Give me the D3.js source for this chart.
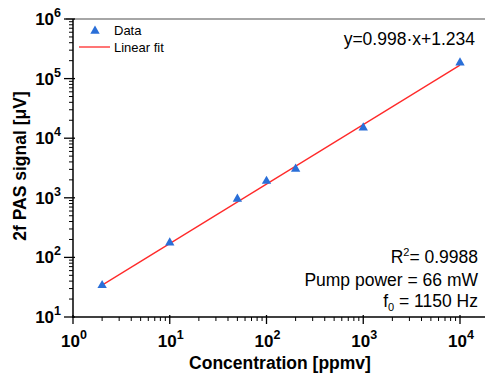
<!DOCTYPE html>
<html><head><meta charset="utf-8">
<script src="https://cdn.jsdelivr.net/npm/d3@7"></script>
<style>body{margin:0;background:#fff}svg{display:block;font-family:"Liberation Sans",Arial,sans-serif}</style>
</head><body><svg id="c" width="485" height="377"></svg>
<script>
const concentration = [2, 10, 50, 100, 200, 1000, 10000];
const signal = [34, 176, 955, 1910, 3050, 15000, 185000];
const fitSlope = 0.998, fitIntercept = 1.234;
const xTickExp = [0, 1, 2, 3, 4];
const yTickExp = [1, 2, 3, 4, 5, 6];
const annoLines = ["Pump power = 66 mW"];

const svg = d3.select("#c");
const x = d3.scaleLog().domain([1, 10000]).range([73, 460]);
const y = d3.scaleLog().domain([10, 1e6]).range([317, 19]);
const xRight = 490;

// top border
svg.append("line").attr("x1", 66).attr("x2", xRight).attr("y1", y(1e6)).attr("y2", y(1e6))
  .attr("stroke", "#888").attr("stroke-width", 1.5);

// minor ticks
function minors(exps){const a=[];for(let e=exps[0];e<exps[exps.length-1];e++)for(let k=2;k<=9;k++)a.push(k*Math.pow(10,e));return a;}
const xMinor = minors(xTickExp).concat([2e4,3e4]).filter(v=>x(v)<=xRight);
const yMinor = minors(yTickExp);
const g = svg.append("g");
g.selectAll(".xm").data(xMinor).join("line").attr("x1",d=>x(d)).attr("x2",d=>x(d)).attr("y1",317).attr("y2",321).attr("stroke","#000").attr("stroke-width",1);
g.selectAll(".ym").data(yMinor).join("line").attr("y1",d=>y(d)).attr("y2",d=>y(d)).attr("x1",69).attr("x2",73).attr("stroke","#000").attr("stroke-width",1);
g.selectAll(".xM").data(xTickExp).join("line").attr("x1",d=>x(Math.pow(10,d))).attr("x2",d=>x(Math.pow(10,d))).attr("y1",315).attr("y2",324).attr("stroke","#000").attr("stroke-width",1.3);
g.selectAll(".yM").data(yTickExp).join("line").attr("y1",d=>y(Math.pow(10,d))).attr("y2",d=>y(Math.pow(10,d))).attr("x1",64).attr("x2",75).attr("stroke","#000").attr("stroke-width",1.3);

// axes lines
svg.append("line").attr("x1",73).attr("x2",73).attr("y1",y(1e6)).attr("y2",317.7).attr("stroke","#000").attr("stroke-width",1.5);
svg.append("line").attr("x1",72.3).attr("x2",xRight).attr("y1",317).attr("y2",317).attr("stroke","#000").attr("stroke-width",1.5);

// tick labels
const xl = svg.selectAll(".xl").data(xTickExp).join("text")
  .attr("x",d=>x(Math.pow(10,d))+1).attr("y",347).attr("text-anchor","middle")
  .attr("font-weight","bold").attr("font-size",17);
xl.append("tspan").text("10");
xl.append("tspan").attr("font-size",12.5).attr("dy",-8).text(d=>d);
const yl = svg.selectAll(".yl").data(yTickExp).join("text")
  .attr("x",61).attr("y",d=>y(Math.pow(10,d))+6).attr("text-anchor","end")
  .attr("font-weight","bold").attr("font-size",17);
yl.append("tspan").text("10");
yl.append("tspan").attr("font-size",12.5).attr("dy",-8).text(d=>d);

// axis titles
svg.append("text").attr("x",280).attr("y",369).attr("text-anchor","middle").attr("font-weight","bold").attr("font-size",17.5).text("Concentration [ppmv]");
svg.append("text").attr("transform","translate(26,166) rotate(-90)").attr("text-anchor","middle").attr("font-weight","bold").attr("font-size",17.5).text("2f PAS signal [\u03BCV]");

// fit line
const xs = d3.extent(concentration);
const fitY = v => Math.pow(10, fitSlope*Math.log10(v)+fitIntercept);
svg.append("line").attr("x1",x(xs[0])).attr("y1",y(fitY(xs[0]))).attr("x2",x(xs[1])).attr("y2",y(fitY(xs[1])))
  .attr("stroke","#ff2a2a").attr("stroke-width",1.3);

// data markers
const tri = d3.symbol().type(d3.symbolTriangle).size(38);
const blue = "#2a6fd8";
svg.selectAll(".pt").data(concentration).join("path")
  .attr("d",tri).attr("transform",(d,i)=>`translate(${x(d)},${y(signal[i])})`).attr("fill",blue);

// legend
svg.append("path").attr("d",tri).attr("transform","translate(95,31)").attr("fill",blue);
svg.append("text").attr("x",114).attr("y",35).attr("font-size",13).text("Data");
svg.append("line").attr("x1",79).attr("x2",110).attr("y1",47).attr("y2",47).attr("stroke","#ff2a2a").attr("stroke-width",1.3);
svg.append("text").attr("x",114).attr("y",52).attr("font-size",13).text("Linear fit");

// annotations
svg.append("text").attr("x",475).attr("y",45).attr("text-anchor","end").attr("font-size",17.5).text(`y=${fitSlope}\u00B7x+${fitIntercept}`);
const r2 = svg.append("text").attr("x",478).attr("y",263).attr("text-anchor","end").attr("font-size",17.5);
r2.append("tspan").text("R");
r2.append("tspan").attr("font-size",11).attr("dy",-7).text("2");
r2.append("tspan").attr("dy",7).text("= 0.9988");
svg.append("text").attr("x",478).attr("y",286).attr("text-anchor","end").attr("font-size",17.5).text(annoLines[0]);
const f0 = svg.append("text").attr("x",478).attr("y",307).attr("text-anchor","end").attr("font-size",17.5);
f0.append("tspan").text("f");
f0.append("tspan").attr("font-size",11).attr("dy",4).text("0");
f0.append("tspan").attr("dy",-4).text(" = 1150 Hz");
</script></body></html>
